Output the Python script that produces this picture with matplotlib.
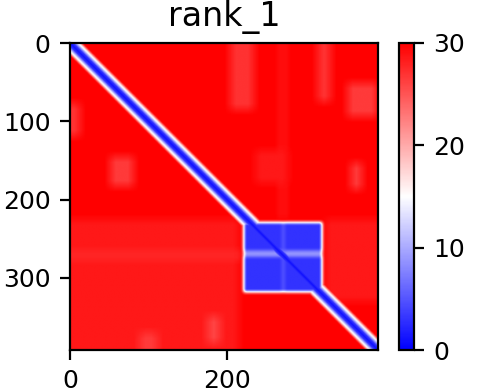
import numpy as np
import matplotlib
matplotlib.use("Agg")
import matplotlib.pyplot as plt

# predicted aligned error matrix, residues 0..391
n_res = 392
base_pae = 30.0

# PAE along the diagonal, by offset |i-j| = 0, 1, 2, ...
diag_pae = [1, 1.5, 2, 2.5, 3, 5, 7, 9, 11, 13, 14.5, 16, 18, 21, 24, 27, 29]

# confident domain (rows = aligned residue, cols = scored residue)
domain_rows = (229, 318)
domain_cols = (221, 321)
domain_pae = 3.0
gap_rows = (265, 273)
gap_pae = 9.0
stripe_col = (270, 273)
stripe_pae = 6.0

# lighter patches in the red background: (row0, row1, col0, col1, pae)
patches = [
    (225, 392, 0, 215, 28.5),
    (225, 330, 325, 392, 28.5),
    (0, 85, 204, 234, 27.0),
    (0, 75, 315, 332, 27.0),
    (51, 94, 353, 391, 26.5),
    (145, 183, 51, 81, 26.5),
    (153, 187, 357, 372, 26.5),
    (370, 392, 89, 111, 26.5),
    (349, 383, 175, 191, 26.0),
    (77, 119, 0, 13, 27.0),
    (0, 225, 268, 274, 28.0),
    (137, 179, 236, 278, 28.5),
    (266, 276, 0, 220, 27.5),
]


def smooth(m, w):
    # box blur along both axes, edges padded
    k = np.ones(w) / w
    p = w // 2
    m = np.pad(m, p, mode="edge")
    m = np.apply_along_axis(lambda v: np.convolve(v, k, mode="same"), 0, m)
    m = np.apply_along_axis(lambda v: np.convolve(v, k, mode="same"), 1, m)
    return m[p:-p, p:-p]


bg = np.full((n_res, n_res), base_pae)
for r0, r1, c0, c1, v in patches:
    bg[r0:r1, c0:c1] = v
bg = smooth(bg, 15)

dom = np.full((n_res, n_res), base_pae)
r0, r1 = domain_rows
c0, c1 = domain_cols
dom[r0:r1, c0:c1] = domain_pae
dom[gap_rows[0]:gap_rows[1], c0:c1] = gap_pae
dom[r0:r1, stripe_col[0]:stripe_col[1]] = stripe_pae
dom = smooth(smooth(dom, 5), 5)

pae = np.minimum(bg, dom)
idx = np.arange(n_res)
for k, v in enumerate(diag_pae):
    for s in (k, -k):
        rows = idx[(idx + s >= 0) & (idx + s < n_res)]
        pae[rows, rows + s] = np.minimum(pae[rows, rows + s], v)

plt.rcParams["font.size"] = 9
fig = plt.figure(figsize=(2.42, 1.96), dpi=200)
W, H = 484, 392
ax = fig.add_axes([70 / W, (H - 350) / H, 308 / W, 307 / H])
im = ax.imshow(pae, cmap="bwr", vmin=0, vmax=30, aspect="auto",
               extent=(0, n_res, n_res, 0))
ax.set_title("rank_1", fontsize=12)
ax.set_xticks([0, 200])
ax.set_yticks([0, 100, 200, 300])

cax = fig.add_axes([399 / W, (H - 350) / H, 15 / W, 307 / H])
cb = fig.colorbar(im, cax=cax)
cb.set_ticks([0, 10, 20, 30])

fig.savefig("out.png", dpi=200)
